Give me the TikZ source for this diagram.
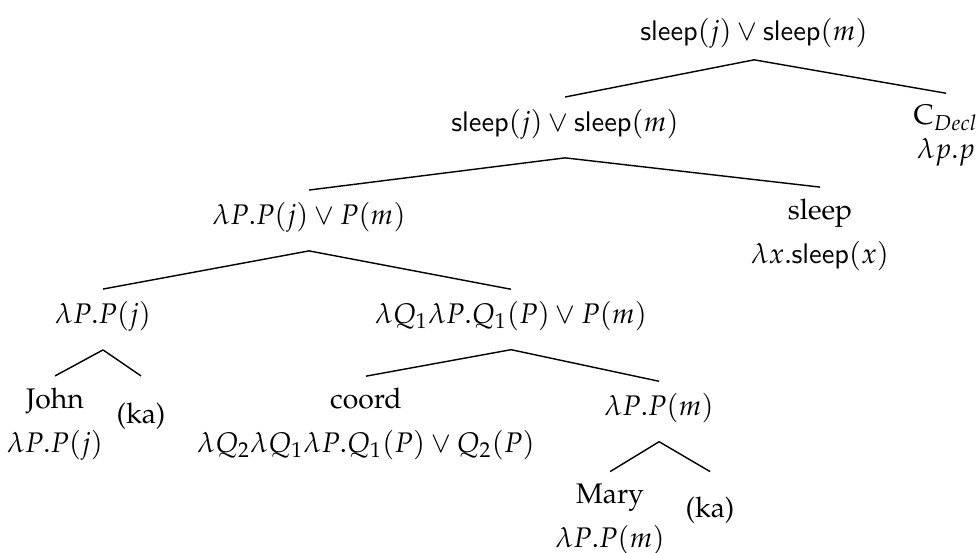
\documentclass[tikz,border=0pt]{standalone}
\usepackage[T1]{fontenc}
\usepackage{mathpazo}
\begin{document}
\begin{tikzpicture}[scale=1.24]
  \tikzset{lbl/.style={align=center, inner sep=4pt},
           branch/.style={line width=0.5pt}}
  \useasboundingbox (0,0) rectangle (9.76,5.52);

  % Sentence level
  \node[lbl] (root) at (7.54,5.19) {$\mathsf{sleep}(j) \vee \mathsf{sleep}(m)$};
  \node[lbl] (s2) at (5.65,4.28) {$\mathsf{sleep}(j) \vee \mathsf{sleep}(m)$};
  \node[lbl] (cdecl) at (9.46,4.16) {C$_{Decl}$\\ $\lambda p.p$};

  % Subject and verb
  \node[lbl] (s3) at (3.09,3.35) {$\lambda P.P(j) \vee P(m)$};
  \node[lbl] (sleep) at (8.20,3.17) {sleep\\[3.5pt] $\lambda x.\mathsf{sleep}(x)$};

  % Coordination
  \node[lbl] (jp) at (1.03,2.36) {$\lambda P.P(j)$};
  \node[lbl] (qp) at (5.11,2.36) {$\lambda Q_1 \lambda P.Q_1(P) \vee P(m)$};
  \node[lbl] (john) at (0.55,1.28) {John\\[3.5pt] $\lambda P.P(j)$};
  \node[lbl] (ka1) at (1.41,1.36) {(ka)};
  \node[lbl] (coord) at (3.66,1.28) {coord\\[3.5pt] $\lambda Q_2 \lambda Q_1 \lambda P.Q_1(P) \vee Q_2(P)$};
  \node[lbl] (mp) at (6.59,1.44) {$\lambda P.P(m)$};
  \node[lbl] (mary) at (6.10,0.33) {Mary\\[3.5pt] $\lambda P.P(m)$};
  \node[lbl] (ka2) at (7.10,0.42) {(ka)};

  % Branches
  \draw[branch] (root.south) -- (s2.north);
  \draw[branch] (root.south) -- (cdecl.north);
  \draw[branch] ([yshift=-2pt]s2.south) -- (s3.north);
  \draw[branch] ([yshift=-2pt]s2.south) -- (sleep.north);
  \draw[branch] ([yshift=-2pt]s3.south) -- (jp.north);
  \draw[branch] ([yshift=-2pt]s3.south) -- (qp.north);
  \draw[branch] ([yshift=-2pt]jp.south) -- (john.north);
  \draw[branch] ([yshift=-2pt]jp.south) -- (ka1.north |- john.north);
  \draw[branch] ([yshift=-2pt]qp.south) -- (coord.north);
  \draw[branch] ([yshift=-2pt]qp.south) -- (mp.north);
  \draw[branch] ([yshift=-2pt]mp.south) -- (mary.north);
  \draw[branch] ([yshift=-2pt]mp.south) -- (ka2.north |- mary.north);
\end{tikzpicture}
\end{document}
